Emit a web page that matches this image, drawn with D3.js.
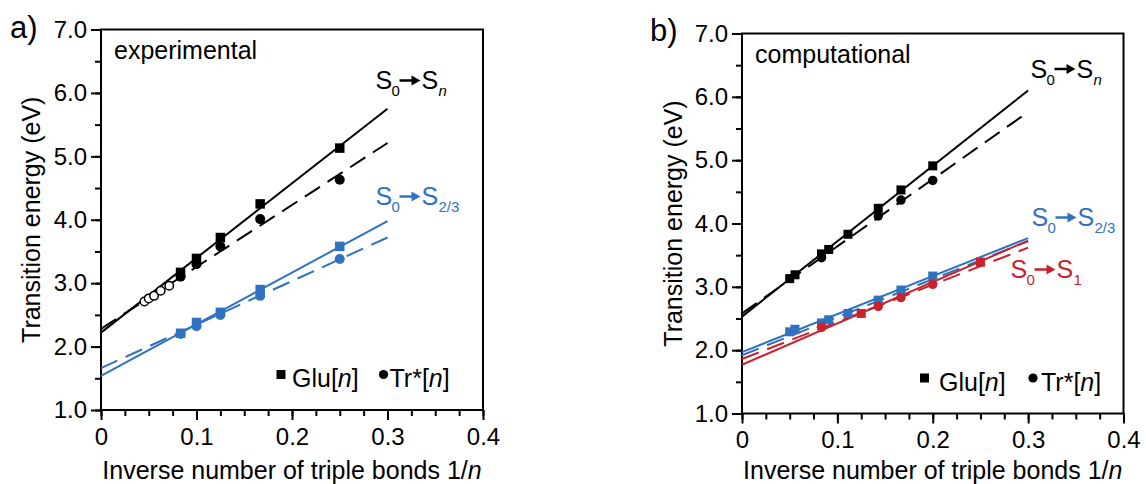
<!DOCTYPE html>
<html lang="en">
<head>
<meta charset="UTF-8">
<title>Transition energy vs inverse number of triple bonds</title>
<script src="https://d3js.org/d3.v7.min.js"></script>
<style>
  body { margin: 0; background: #fff; }
  svg { display: block; font-family: "Liberation Sans", Arial, Helvetica, sans-serif; }
  .tick text { font-size: 24px; fill: #000; }
  .tick line { stroke: #000; stroke-width: 2; }
</style>
</head>
<body>
<svg id="chart" width="1146" height="484"></svg>
<script>
// ---- axis ticks ----
const xTickValues = [0, 0.1, 0.2, 0.3, 0.4];
const xTickLabels = ["0", "0.1", "0.2", "0.3", "0.4"];
const yTickValues = [1, 2, 3, 4, 5, 6, 7];
const yTickLabels = ["1.0", "2.0", "3.0", "4.0", "5.0", "6.0", "7.0"];

// ---- panel a: experimental ----
const expX = [1/12, 1/10, 1/8, 1/6, 1/4];
const expGluSn  = [3.17, 3.39, 3.72, 4.25, 5.13];
const expGluS23 = [2.21, 2.38, 2.54, 2.90, 3.58];
const expTrSn   = [3.10, 3.30, 3.58, 4.01, 4.63];
const expTrS23  = [2.20, 2.32, 2.50, 2.80, 3.38];
const expOpenX  = [1/22, 1/20, 1/18, 1/16, 1/14];
const expOpenSn = [2.71, 2.76, 2.80, 2.88, 2.96];

// ---- panel b: computational ----
const compGluX   = [1/20, 1/18, 1/12, 1/11, 1/9, 1/7, 1/6, 1/5];
const compGluSn  = [3.13, 3.19, 3.52, 3.59, 3.83, 4.24, 4.53, 4.91];
const compGluS23 = [2.29, 2.33, 2.43, 2.48, 2.58, 2.79, 2.95, 3.17];
const compGluS1X = [1/8, 1/4];
const compGluS1  = [2.58, 3.39];
const compTrX    = [1/12, 1/7, 1/6, 1/5];
const compTrSn   = [3.46, 4.12, 4.37, 4.68];
const compTrS1   = [2.36, 2.69, 2.83, 3.04];

// linear fits, value at x = 0 and at x = 0.3
const fitX = [0, 0.3];
const expFitGluSn   = [2.22, 5.75];
const expFitTrSn    = [2.28, 5.21];
const expFitGluS23  = [1.54, 3.98];
const expFitTrS23   = [1.66, 3.72];
const compFitGluSn  = [2.53, 6.10];
const compFitTrSn   = [2.58, 5.76];
const compFitGluS23 = [1.97, 3.77];
const compFitTrS23  = [1.92, 3.72];
const compFitGluS1  = [1.77, 3.73];
const compFitTrS1   = [1.86, 3.62];

const BLACK = "#000", BLUE = "#2f72bf", RED = "#c9222c";
const DASH = "18,9";

const svg = d3.select("#chart");

function transitionLabel(g, x, y, color, sub) {
    const t = g.append("g").attr("fill", color);
    t.append("text").attr("x", x).attr("y", y).attr("font-size", 25).text("S");
    t.append("text").attr("x", x + 16).attr("y", y + 7).attr("font-size", 15).text("0");
    t.append("line")
        .attr("x1", x + 24).attr("x2", x + 38)
        .attr("y1", y - 8.5).attr("y2", y - 8.5)
        .attr("stroke", color).attr("stroke-width", 2.5);
    t.append("path")
        .attr("d", `M${x + 36},${y - 13.5}L${x + 45},${y - 8.5}L${x + 36},${y - 3.5}Z`);
    t.append("text").attr("x", x + 46).attr("y", y).attr("font-size", 25).text("S");
    t.append("text").attr("x", x + 63).attr("y", y + 7).attr("font-size", 15)
        .attr("font-style", sub === "n" ? "italic" : "normal").text(sub);
}

function drawPanel(p) {
    const x = d3.scaleLinear().domain([0, 0.4]).range([p.left, p.right]);
    const y = d3.scaleLinear().domain([1, 7]).range([p.bottom, p.top]);
    const g = svg.append("g");

    // minor ticks
    g.append("g").attr("transform", `translate(0,${p.bottom})`)
        .call(d3.axisBottom(x).tickValues(d3.range(0, 0.401, 0.025)).tickSize(6).tickFormat(""))
        .call(a => a.select(".domain").remove());
    g.append("g").attr("transform", `translate(${p.left},0)`)
        .call(d3.axisLeft(y).tickValues(d3.range(1, 7.01, 0.5)).tickSize(6).tickFormat(""))
        .call(a => a.select(".domain").remove());

    // major ticks
    g.append("g").attr("transform", `translate(0,${p.bottom})`)
        .call(d3.axisBottom(x).tickValues(xTickValues).tickSize(10).tickPadding(p.xPad)
            .tickFormat((d, i) => xTickLabels[i]))
        .call(a => a.select(".domain").remove())
        .call(a => a.selectAll("text").attr("font-family", null));
    g.append("g").attr("transform", `translate(${p.left},0)`)
        .call(d3.axisLeft(y).tickValues(yTickValues).tickSize(10).tickPadding(4)
            .tickFormat((d, i) => yTickLabels[i]))
        .call(a => a.select(".domain").remove())
        .call(a => a.selectAll("text").attr("font-family", null));

    // frame
    g.append("rect")
        .attr("x", p.left).attr("y", p.top)
        .attr("width", p.right - p.left).attr("height", p.bottom - p.top)
        .attr("fill", "none").attr("stroke", "#000").attr("stroke-width", 2);

    // fit lines
    const line = d3.line().x(d => x(d[0])).y(d => y(d[1]));
    p.fits.forEach(f => {
        g.append("path")
            .datum(fitX.map((v, i) => [v, f.ends[i]]))
            .attr("d", line)
            .attr("fill", "none")
            .attr("stroke", f.color)
            .attr("stroke-width", 2)
            .attr("stroke-dasharray", f.dashed ? DASH : null);
    });

    // markers
    p.series.forEach(s => {
        const pts = s.x.map((v, i) => [v, s.y[i]]);
        if (s.shape === "square") {
            g.selectAll(null).data(pts).enter().append("rect")
                .attr("x", d => x(d[0]) - s.size / 2)
                .attr("y", d => y(d[1]) - s.size / 2)
                .attr("width", s.size).attr("height", s.size)
                .attr("fill", s.color);
        } else {
            g.selectAll(null).data(pts).enter().append("circle")
                .attr("cx", d => x(d[0])).attr("cy", d => y(d[1]))
                .attr("r", s.size / 2)
                .attr("fill", s.open ? "#fff" : s.color)
                .attr("stroke", s.open ? s.color : "none")
                .attr("stroke-width", 1.5);
        }
    });

    // texts
    svg.append("text").attr("x", p.letterX).attr("y", p.letterY)
        .attr("font-size", 31).text(p.letter);
    svg.append("text").attr("x", p.left + 13).attr("y", p.captionY)
        .attr("font-size", 25).text(p.caption);

    svg.append("text")
        .attr("transform", `translate(${p.yTitleX},${(p.top + p.bottom) / 2}) rotate(-90)`)
        .attr("text-anchor", "middle").attr("font-size", 25)
        .text("Transition energy (eV)");

    const xt = svg.append("text")
        .attr("x", (p.left + p.right) / 2).attr("y", 479)
        .attr("text-anchor", "middle").attr("font-size", 25);
    xt.append("tspan").text("Inverse number of triple bonds 1/");
    xt.append("tspan").attr("font-style", "italic").text("n");

    // legend
    const L = p.legend;
    svg.append("rect").attr("x", L.sqX - 4.5).attr("y", L.y - 4.5)
        .attr("width", 9).attr("height", 9).attr("fill", "#000");
    const t1 = svg.append("text").attr("x", L.gluX).attr("y", L.y + 12.5).attr("font-size", 25);
    t1.append("tspan").text("Glu[");
    t1.append("tspan").attr("font-style", "italic").text("n");
    t1.append("tspan").text("]");
    svg.append("circle").attr("cx", L.cirX).attr("cy", L.y).attr("r", 4.6).attr("fill", "#000");
    const t2 = svg.append("text").attr("x", L.trX).attr("y", L.y + 12.5).attr("font-size", 25);
    t2.append("tspan").text("Tr*[");
    t2.append("tspan").attr("font-style", "italic").text("n");
    t2.append("tspan").text("]");

    p.labels.forEach(l => transitionLabel(svg, l.x, l.y, l.color, l.sub));
}

drawPanel({
    left: 101, right: 483, top: 29.5, bottom: 410, xPad: 8,
    letter: "a)", letterX: 10, letterY: 38, caption: "experimental", captionY: 59,
    yTitleX: 40,
    legend: { y: 374.5, sqX: 281, gluX: 292, cirX: 383.5, trX: 389.5 },
    fits: [
        { ends: expFitGluSn, color: BLACK, dashed: false },
        { ends: expFitTrSn, color: BLACK, dashed: true },
        { ends: expFitGluS23, color: BLUE, dashed: false },
        { ends: expFitTrS23, color: BLUE, dashed: true }
    ],
    series: [
        { x: expOpenX, y: expOpenSn, shape: "circle", color: BLACK, open: true, size: 8.5 },
        { x: expX, y: expTrSn, shape: "circle", color: BLACK, size: 10 },
        { x: expX, y: expTrS23, shape: "circle", color: BLUE, size: 10 },
        { x: expX, y: expGluSn, shape: "square", color: BLACK, size: 9.5 },
        { x: expX, y: expGluS23, shape: "square", color: BLUE, size: 9.5 }
    ],
    labels: [
        { x: 375.5, y: 89, color: BLACK, sub: "n" },
        { x: 375.5, y: 205, color: BLUE, sub: "2/3" }
    ]
});

drawPanel({
    left: 742, right: 1123.5, top: 33.5, bottom: 413.5, xPad: 7,
    letter: "b)", letterX: 650, letterY: 41, caption: "computational", captionY: 62.5,
    yTitleX: 682,
    legend: { y: 378, sqX: 924.5, gluX: 939, cirX: 1033, trX: 1041 },
    fits: [
        { ends: compFitGluSn, color: BLACK, dashed: false },
        { ends: compFitTrSn, color: BLACK, dashed: true },
        { ends: compFitTrS23, color: BLUE, dashed: true },
        { ends: compFitGluS23, color: BLUE, dashed: false },
        { ends: compFitTrS1, color: RED, dashed: true },
        { ends: compFitGluS1, color: RED, dashed: false }
    ],
    series: [
        { x: compTrX, y: compTrSn, shape: "circle", color: BLACK, size: 9.5 },
        { x: compGluX, y: compGluSn, shape: "square", color: BLACK, size: 9 },
        { x: compGluX, y: compGluS23, shape: "square", color: BLUE, size: 9 },
        { x: compTrX, y: compTrS1, shape: "circle", color: RED, size: 9.5 },
        { x: compGluS1X, y: compGluS1, shape: "square", color: RED, size: 9 }
    ],
    labels: [
        { x: 1030.5, y: 77.5, color: BLACK, sub: "n" },
        { x: 1031.5, y: 226, color: BLUE, sub: "2/3" },
        { x: 1010.5, y: 278, color: RED, sub: "1" }
    ]
});
</script>
</body>
</html>
